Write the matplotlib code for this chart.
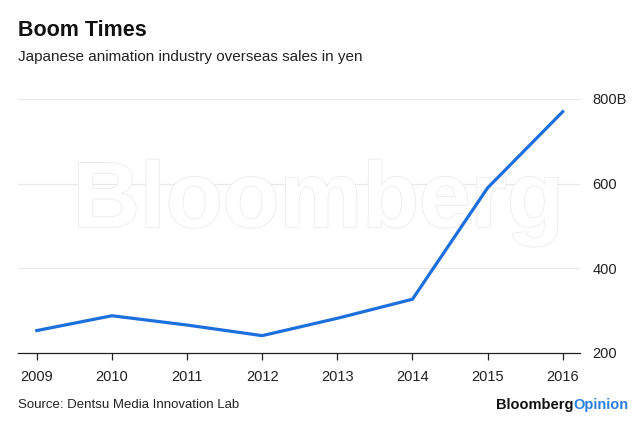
import matplotlib
matplotlib.use("Agg")
import matplotlib.pyplot as plt
import matplotlib.patheffects as pe

years = [2009, 2010, 2011, 2012, 2013, 2014, 2015, 2016]
sales = [253, 288, 266, 241, 282, 327, 590, 770]
ytick_vals = [200, 400, 600, 800]
ytick_labels = ["200", "400", "600", "800B"]

plt.rcParams['font.family'] = ['Liberation Sans', 'DejaVu Sans']

fig = plt.figure(figsize=(6.4, 4.21), dpi=100)
ax = fig.add_axes([18/640, 1-353/421, (580-18)/640, (353-99)/421])

ax.set_xlim(2008.75, 2016.23)
ax.set_ylim(200, 800)

# watermark
ax.text(0.497, 1-203/421, "Bloomberg", fontsize=67, fontweight='bold', color='white',
        ha='center', va='center', zorder=2, transform=fig.transFigure, clip_on=False,
        path_effects=[pe.withStroke(linewidth=1.2, foreground='#ebebeb')])

for v in ytick_vals[1:]:
    ax.axhline(v, color='#e8e8e8', lw=0.9, zorder=1)

ax.plot(years, sales, color='#1c6fdc', lw=2.3, zorder=3, solid_joinstyle='miter', clip_on=False)

for s in ['top', 'right', 'left']:
    ax.spines[s].set_visible(False)
ax.spines['bottom'].set_color('#222222')
ax.spines['bottom'].set_linewidth(0.9)

ax.set_xticks(years)
ax.set_xticklabels([str(y) for y in years])
ax.tick_params(axis='x', direction='out', length=5, width=0.9, color='#222222',
               labelsize=10.5, labelcolor='#222222', pad=7)
ax.yaxis.tick_right()
ax.set_yticks(ytick_vals)
ax.set_yticklabels(ytick_labels)
ax.tick_params(axis='y', length=0, labelsize=10.5, labelcolor='#222222', pad=9)

fig.text(18/640, 1-30/421, "Boom Times", fontsize=15.5, fontweight='bold', color='#111111',
         ha='left', va='center')
fig.text(18/640, 1-57/421, "Japanese animation industry overseas sales in yen", fontsize=11,
         color='#222222', ha='left', va='center')
fig.text(18/640, 1-405/421, "Source: Dentsu Media Innovation Lab", fontsize=9.5,
         color='#222222', ha='left', va='center')

t2 = fig.text(628/640, 1-405/421, "Opinion", fontsize=10.5, fontweight='bold', color='#2b7de0',
              ha='right', va='center')
fig.canvas.draw()
bb = t2.get_window_extent()
fig.text((bb.x0 + 1)/640, 1-405/421, "Bloomberg", fontsize=10.5, fontweight='bold', color='#111111',
         ha='right', va='center')

fig.savefig("out.png", dpi=100)
